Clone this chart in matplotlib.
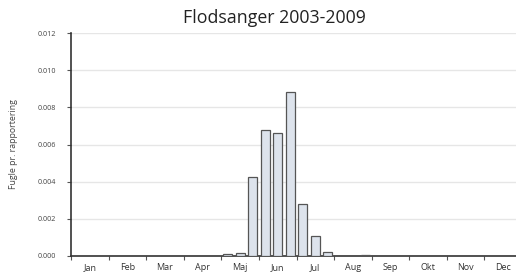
import matplotlib.pyplot as plt
import numpy as np

# Data: 3 periods (ca. 10 days) per month
months = ['Jan', 'Feb', 'Mar', 'Apr', 'Maj', 'Jun', 'Jul', 'Aug', 'Sep', 'Okt', 'Nov', 'Dec']
jan_apr = [0.0] * 12
maj = [0.0001, 0.00018, 0.00425]
jun = [0.0068, 0.0066, 0.0088]
jul = [0.0028, 0.0011, 0.00023]
aug = [0.0, 0.0, 0.00005]
sep_dec = [0.0] * 12
values = jan_apr + maj + jun + jul + aug + sep_dec
yticks = [0.000, 0.002, 0.004, 0.006, 0.008, 0.010, 0.012]

plt.rcParams['font.family'] = ['Open Sans', 'DejaVu Sans']

fig = plt.figure(figsize=(5.16, 2.76), dpi=100)
ax = fig.add_axes([71 / 516, 20 / 276, 451 / 516, 223 / 276])

x = np.arange(len(values)) + 0.5
ax.bar(x, values, width=0.72, color='#dde3ec', edgecolor='#555555', linewidth=0.9, zorder=3)

ax.set_xlim(0, 36)
ax.set_ylim(0, 0.012)
ax.set_yticks(yticks)
ax.set_yticklabels([f'{v:.3f}' for v in yticks], fontsize=5.2, color='#444444')
ax.grid(axis='y', color='#e6e6e6', linewidth=1.0, zorder=0)

ax.set_xticks(np.arange(0, 37, 3))
ax.set_xticklabels([])
ax.set_xticks(np.arange(1.5, 36, 3), minor=True)
ax.set_xticklabels(months, minor=True, fontsize=6.5, color='#333333')
ax.tick_params(axis='x', which='minor', length=0, pad=5)
ax.tick_params(axis='x', which='major', length=3, color='#555555')
ax.tick_params(axis='y', length=3, color='#555555', pad=8)

for s in ['top', 'right']:
    ax.spines[s].set_visible(False)
for s in ['left', 'bottom']:
    ax.spines[s].set_color('#333333')
    ax.spines[s].set_linewidth(1.2)

ax.set_ylabel('Fugle pr. rapportering', fontsize=6.3, color='#444444', labelpad=14)
fig.text(274 / 516, 0.935, 'Flodsanger 2003-2009', ha='center', va='center', fontsize=12.8, color='#222222')

fig.savefig('out.png', dpi=100)
